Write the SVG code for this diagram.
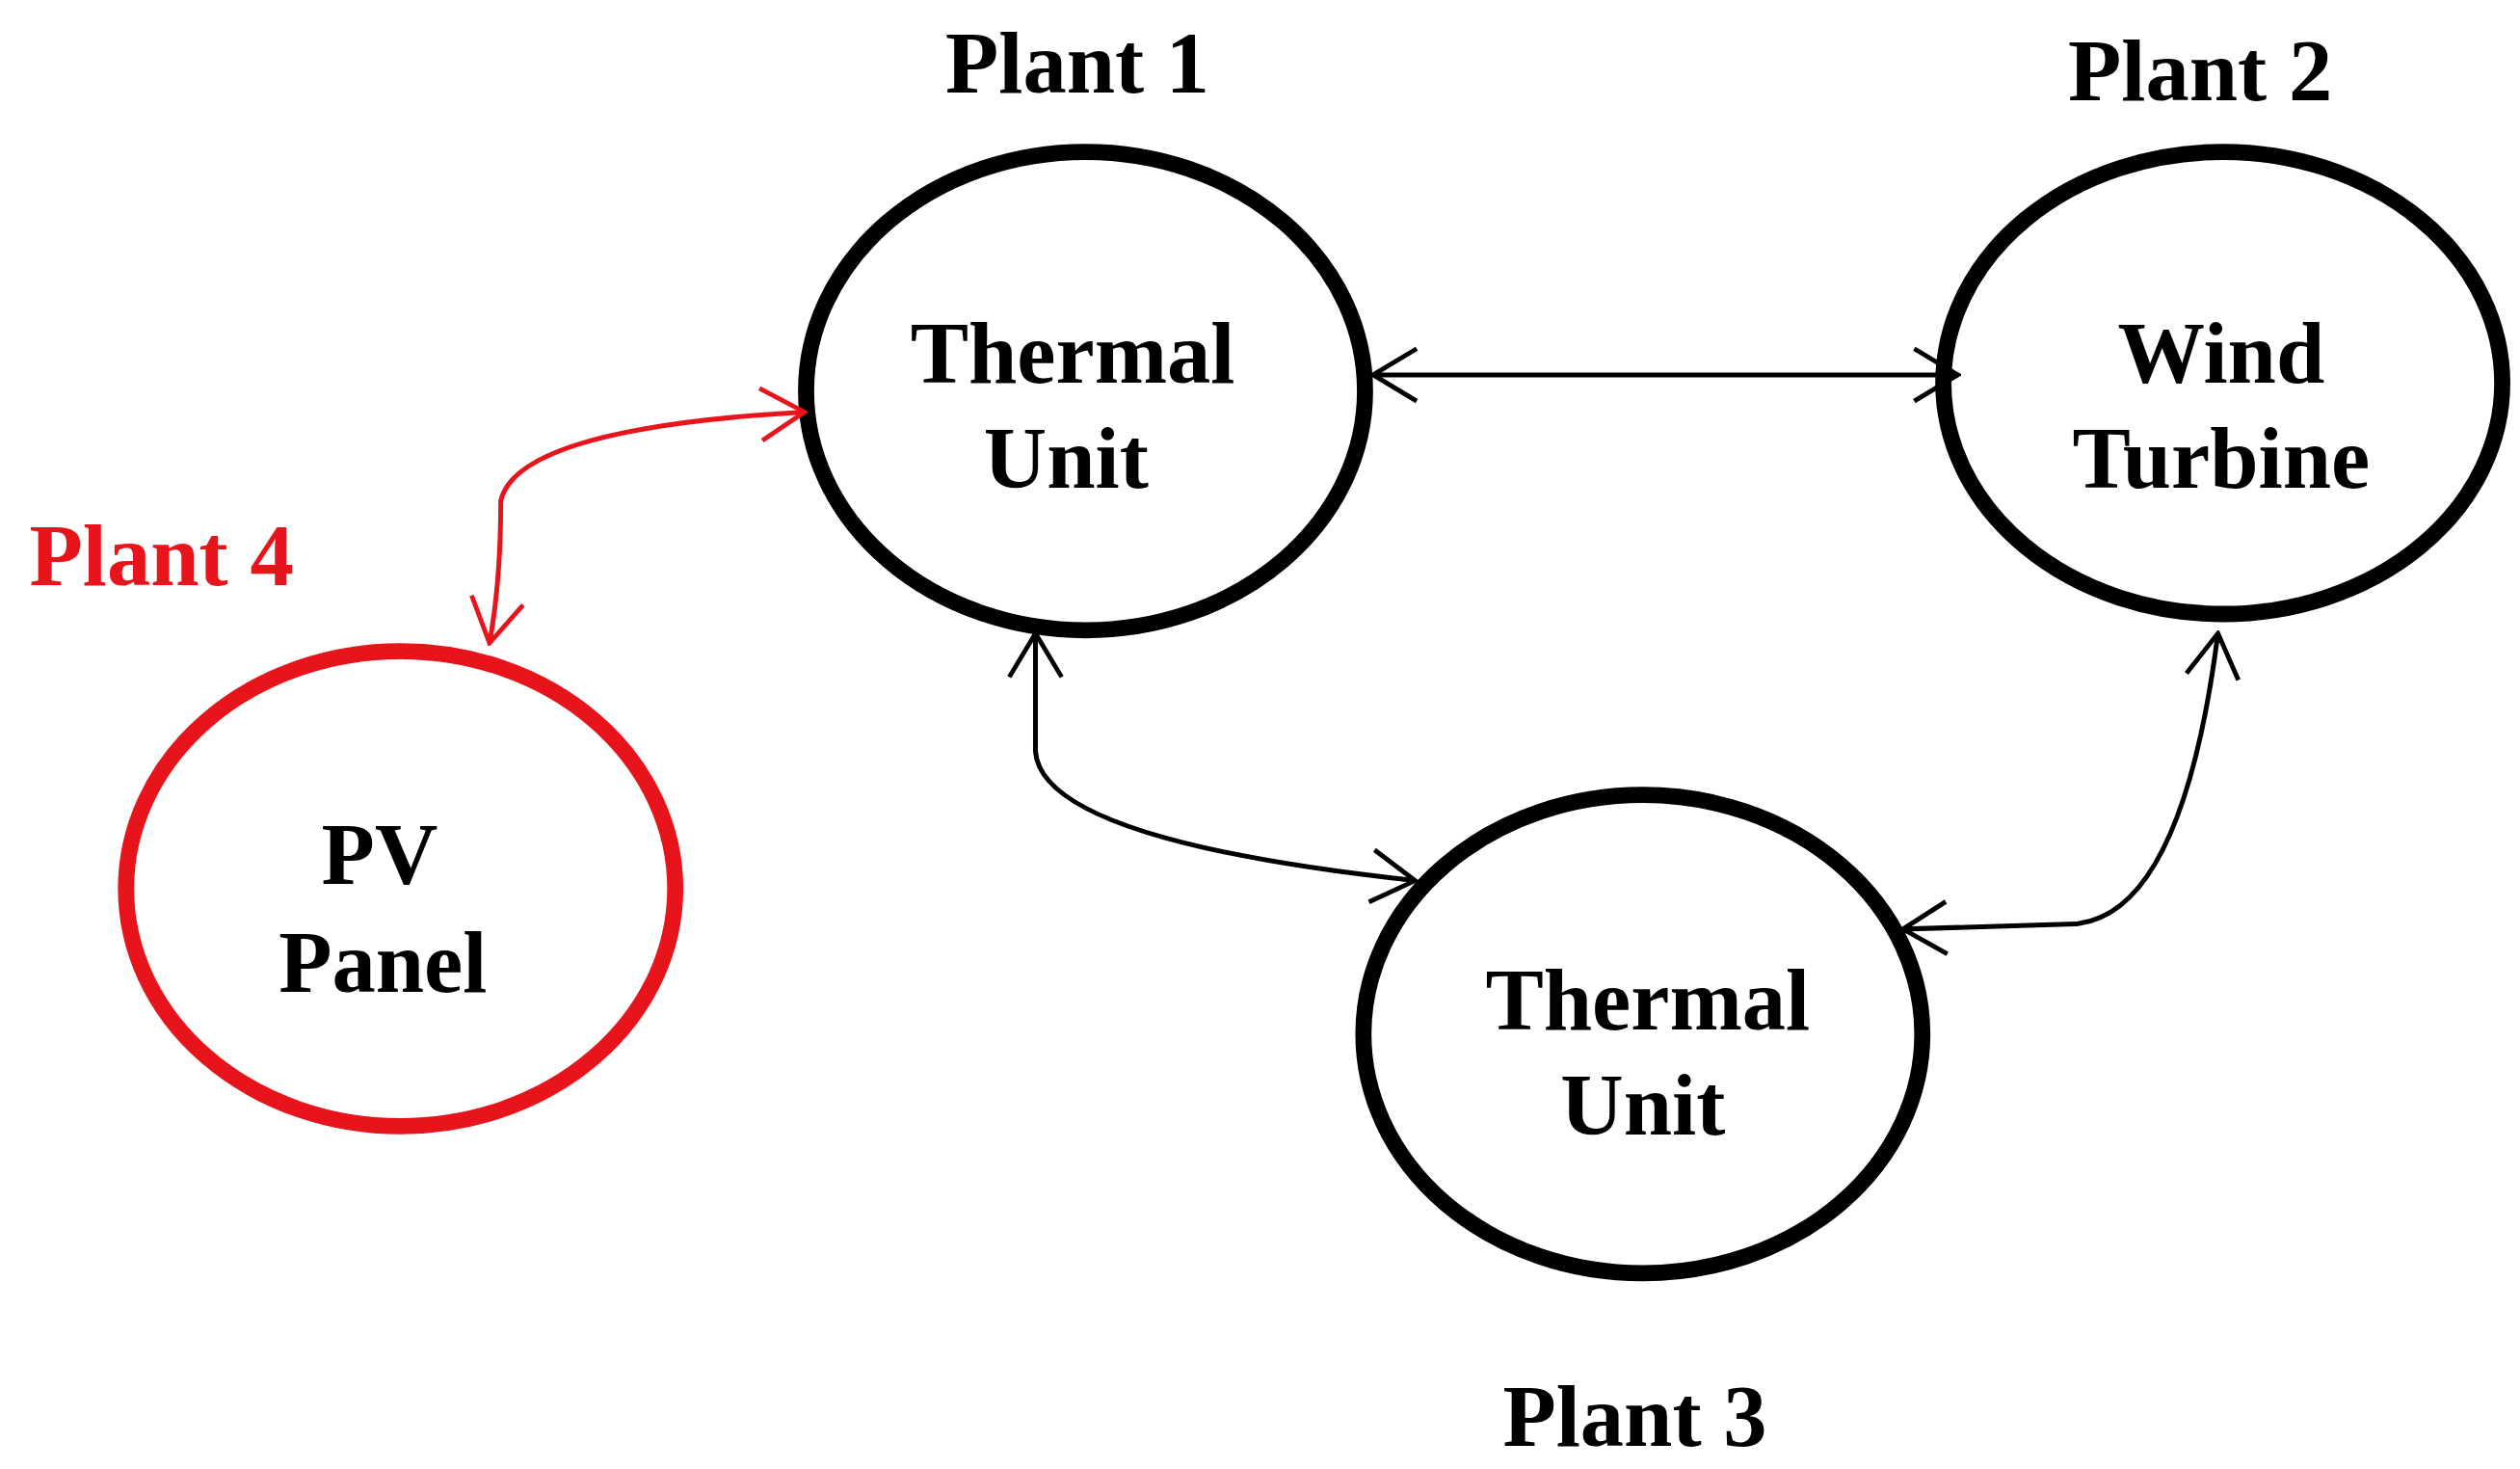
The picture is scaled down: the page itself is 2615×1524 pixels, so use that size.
<svg xmlns="http://www.w3.org/2000/svg" width="2615" height="1524" viewBox="0 0 2615 1524">
<style>
.n{fill:none;stroke:#000;stroke-width:10}
.r{stroke:#e8141b}
.t{font-family:"Liberation Serif",serif;font-weight:bold;font-size:54px;text-anchor:middle;fill:#000}
.c{fill:none;stroke:#000;stroke-width:3}
</style>
<defs>
<marker id="a" viewBox="0 0 20 20" refX="19" refY="10" markerWidth="36" markerHeight="36" markerUnits="userSpaceOnUse" orient="auto-start-reverse"><path d="M4,1 L19,10 L4,19" fill="none" stroke="#000" stroke-width="1.6"/></marker>
<marker id="b" viewBox="0 0 20 20" refX="19" refY="10" markerWidth="36" markerHeight="36" markerUnits="userSpaceOnUse" orient="auto-start-reverse"><path d="M4,1 L19,10 L4,19" fill="none" stroke="#e8141b" stroke-width="1.6"/></marker>
</defs>
<rect width="2615" height="1524" fill="#fff"/>
<g transform="scale(1.6763)">
<g id="plant1"><ellipse class="n" cx="672" cy="242" rx="173" ry="148"/><text class="t" x="664" y="237">Thermal</text><text class="t" x="660" y="302">Unit</text><text class="t" x="667" y="57">Plant 1</text></g>
<g id="plant2"><ellipse class="n" cx="1376" cy="237" rx="173" ry="143"/><text class="t" x="1375" y="237">Wind</text><text class="t" x="1375" y="302">Turbine</text><text class="t" x="1362" y="62">Plant 2</text></g>
<g id="plant3"><ellipse class="n" cx="1017" cy="640" rx="173" ry="148"/><text class="t" x="1020" y="637">Thermal</text><text class="t" x="1017" y="702">Unit</text><text class="t" x="1012" y="895">Plant 3</text></g>
<g id="plant4"><ellipse class="n r" cx="248" cy="550" rx="170" ry="147"/><text class="t" x="235" y="547">PV</text><text class="t" x="237" y="614">Panel</text><text class="t" x="100" y="362" style="fill:#e8141b">Plant 4</text></g>
<g id="connectors">
<path class="c" d="M850,232 L1212,232" marker-start="url(#a)" marker-end="url(#a)"/>
<path class="c" d="M641,392 L641,465 Q645,520 876,545" marker-start="url(#a)" marker-end="url(#a)"/>
<path class="c" d="M1373,392 Q1350,572 1280,572 L1178,575" marker-start="url(#a)" marker-end="url(#a)"/>
<path class="c" d="M303,398 Q310,360 310,310 Q320,265 498,255" style="stroke:#e8141b" marker-start="url(#b)" marker-end="url(#b)"/>
</g>
</g>
</svg>
